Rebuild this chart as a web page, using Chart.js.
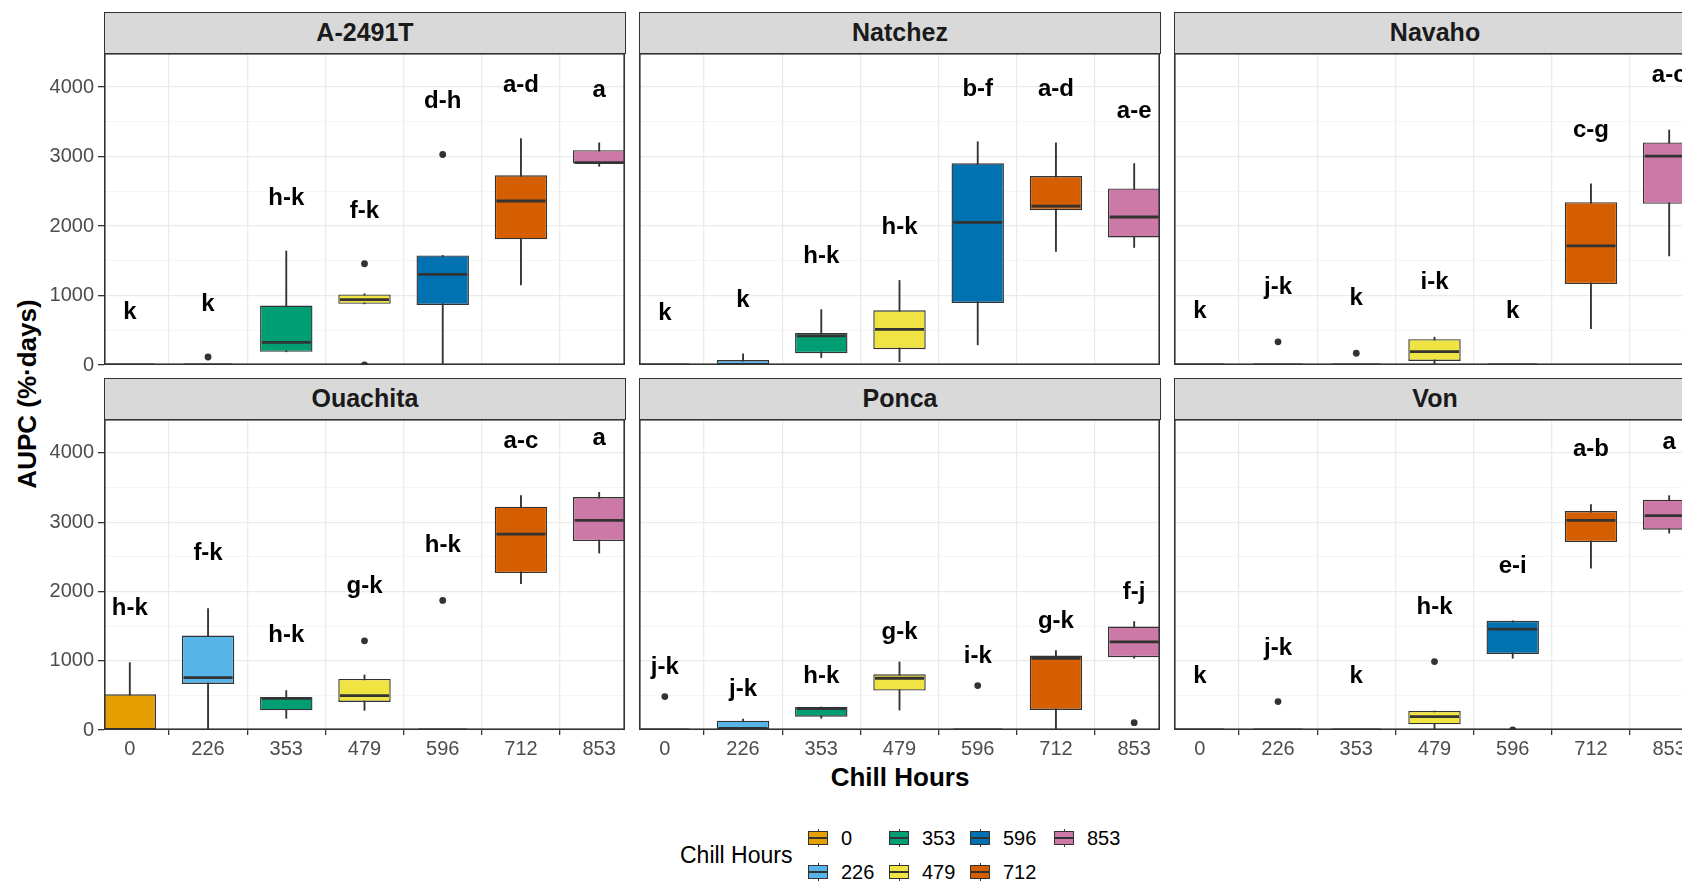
<!DOCTYPE html>
<html>
<head>
<meta charset="utf-8">
<script src="https://cdn.jsdelivr.net/npm/chart.js@4.4.1/dist/chart.umd.min.js"></script>
<style>
  body { margin: 0; width: 1682px; height: 882px; overflow: hidden; background: #fff; position: relative;
         font-family: "Liberation Sans", Arial, sans-serif; }
  canvas { position: absolute; }
  .strip { position: absolute; box-sizing: border-box; width: 522px; height: 42px; background: #d9d9d9;
           border: 1.5px solid #333; color: #1a1a1a; font-weight: bold; font-size: 25px;
           text-align: center; line-height: 39px; }
  .ytitle { position: absolute; left: 27px; top: 394px; transform: translate(-50%, -50%) rotate(-90deg);
            font-weight: bold; font-size: 26px; white-space: nowrap; color: #000; }
  .xtitle { position: absolute; left: 900px; top: 777px; transform: translate(-50%, -50%);
            font-weight: bold; font-size: 26px; white-space: nowrap; color: #000; }
  .legtitle { position: absolute; left: 680px; top: 855px; transform: translateY(-50%); font-size: 23px; color: #000; }
  .key { position: absolute; width: 20px; height: 18px; }
  .key .wh { position: absolute; left: 9.5px; top: 0; width: 1px; height: 18px; background: #333; }
  .key .bx { position: absolute; left: 0; top: 2px; width: 20px; height: 14px; box-sizing: border-box; border: 1px solid #333; }
  .key .md { position: absolute; left: 1px; top: 8px; width: 18px; height: 2px; background: #333; }
  .leglab { position: absolute; font-size: 20px; color: #000; transform: translateY(-50%); }
</style>
</head>
<body>
<div class="ytitle">AUPC (%·days)</div>
<div class="xtitle">Chill Hours</div>
<div class="legtitle">Chill Hours</div>
<script>
// panels and categories
const cultivars = ["A-2491T", "Natchez", "Navaho", "Ouachita", "Ponca", "Von"];
const chillHours = ["0", "226", "353", "479", "596", "712", "853"];
const boxColors = ["#E69F00", "#56B4E9", "#009E73", "#F0E442", "#0072B2", "#D55E00", "#CC79A7"];
const yTicks = [0, 500, 1000, 1500, 2000, 2500, 3000, 3500, 4000];

// box statistics, one row per cultivar, one value per chill hour
const q1 = [
  [0, 0, 190, 880, 865, 1808, 2900],
  [0, 0, 169, 227, 893, 2227, 1836],
  [0, 0, 0, 58, 0, 1164, 2319],
  [0, 665, 284, 405, 0, 2265, 2728],
  [0, 0, 193, 569, 0, 289, 1051],
  [0, 0, 0, 82, 1099, 2713, 2892]
];
const medians = [
  [0, 0, 327, 942, 1303, 2360, 2913],
  [0, 0, 420, 512, 2053, 2285, 2130],
  [0, 0, 0, 193, 0, 1715, 3005],
  [0, 757, 458, 496, 0, 2829, 3027],
  [0, 24, 308, 747, 0, 1036, 1272],
  [0, 0, 0, 193, 1455, 3027, 3094]
];
const q3 = [
  [0, 10, 855, 1015, 1577, 2731, 3091],
  [0, 72, 459, 787, 2903, 2720, 2541],
  [0, 0, 0, 372, 0, 2343, 3203],
  [516, 1364, 477, 737, 0, 3224, 3364],
  [0, 135, 333, 805, 0, 1075, 1494],
  [0, 0, 0, 275, 1576, 3161, 3325]
];
const whiskLow = [
  [0, 0, 190, 880, 0, 1154, 2860],
  [0, 0, 106, 48, 290, 1633, 1691],
  [0, 0, 0, 10, 0, 522, 1570],
  [0, 0, 169, 284, 0, 2111, 2554],
  [0, 0, 169, 289, 0, 0, 1036],
  [0, 0, 0, 0, 1036, 2337, 2843]
];
const whiskHigh = [
  [0, 10, 1640, 1025, 1577, 3260, 3197],
  [0, 160, 797, 1217, 3213, 3198, 2899],
  [0, 0, 0, 401, 0, 2609, 3382],
  [973, 1754, 569, 795, 0, 3383, 3431],
  [0, 159, 333, 983, 0, 1147, 1566],
  [0, 0, 0, 275, 1576, 3253, 3383]
];
// outliers as [chill hour index, value]
const outliers = [
  [[1, 115], [3, 1457], [3, 0], [4, 3029]],
  [],
  [[1, 333], [2, 169]],
  [[3, 1287], [4, 1870]],
  [[0, 482], [4, 641], [6, 106]],
  [[1, 410], [3, 988], [4, 0]]
];
// mean separation letters and their heights
const letters = [
  ["k", "k", "h-k", "f-k", "d-h", "a-d", "a"],
  ["k", "k", "h-k", "h-k", "b-f", "a-d", "a-e"],
  ["k", "j-k", "k", "i-k", "k", "c-g", "a-c"],
  ["h-k", "f-k", "h-k", "g-k", "h-k", "a-c", "a"],
  ["j-k", "j-k", "h-k", "g-k", "i-k", "g-k", "f-j"],
  ["k", "j-k", "k", "h-k", "e-i", "a-b", "a"]
];
const letterY = [
  [760, 870, 2400, 2216, 3790, 4030, 3957],
  [740, 932, 1560, 1981, 3971, 3961, 3657],
  [773, 1121, 952, 1188, 773, 3382, 4164],
  [1759, 2554, 1364, 2072, 2665, 4169, 4217],
  [901, 593, 776, 1407, 1060, 1566, 1986],
  [771, 1181, 771, 1773, 2361, 4048, 4154]
];

const FONT = '"Liberation Sans", Arial, sans-serif';
const panelX = [104, 639, 1174];
const panelW = 521;
const plotTop = [53, 419];
const plotH = [312, 311];
const stripTop = [12, 378];

// frame + letters
const panelDecor = {
  id: "panelDecor",
  afterDraw(chart) {
    const { ctx, chartArea: a, scales } = chart;
    const p = chart.options.plugins.panelDecor.panel;
    ctx.save();
    ctx.font = "bold 24px " + FONT;
    ctx.fillStyle = "#000";
    ctx.textAlign = "center";
    ctx.textBaseline = "middle";
    letters[p].forEach((t, i) => {
      ctx.fillText(t, scales.x.getPixelForValue(i), scales.y.getPixelForValue(letterY[p][i]));
    });
    ctx.strokeStyle = "#333";
    ctx.lineWidth = 1.6;
    ctx.strokeRect(a.left + 0.8, a.top + 0.8, a.right - a.left - 1.6, a.bottom - a.top - 1.6);
    ctx.restore();
  }
};

function makePanel(p) {
  const col = p % 3, row = Math.floor(p / 3);
  const showY = col === 0, showX = row === 1;
  const yW = showY ? 104 : 0;
  // top-left panel keeps a little room below so its "0" label is not cut
  const xH = showX ? 34 : (showY ? 12 : 0);

  const strip = document.createElement("div");
  strip.className = "strip";
  strip.style.left = panelX[col] + "px";
  strip.style.top = stripTop[row] + "px";
  strip.textContent = cultivars[p];
  document.body.appendChild(strip);

  const canvas = document.createElement("canvas");
  canvas.width = panelW + yW;
  canvas.height = plotH[row] + xH;
  canvas.style.left = (panelX[col] - yW) + "px";
  canvas.style.top = plotTop[row] + "px";
  document.body.appendChild(canvas);

  const idx = chillHours.map((_, i) => i);

  new Chart(canvas, {
    type: "bar",
    data: {
      datasets: [
        {
          type: "bar",
          data: idx.map(i => ({ x: i, y: [whiskLow[p][i], whiskHigh[p][i]] })),
          backgroundColor: "#333",
          barThickness: 1.2,
          grouped: false,
          clip: 0,
          order: 4
        },
        {
          type: "bar",
          data: idx.map(i => ({ x: i, y: [q1[p][i], q3[p][i]] })),
          backgroundColor: boxColors,
          borderColor: "#333",
          borderWidth: 1.4,
          borderSkipped: false,
          barPercentage: 0.67,
          categoryPercentage: 1,
          grouped: false,
          clip: 0,
          order: 3
        },
        {
          type: "scatter",
          data: idx.map(i => ({ x: i, y: medians[p][i] })),
          pointStyle: "line",
          pointRadius: 24.5,
          borderColor: "#333",
          pointBorderColor: "#333",
          borderWidth: 2.8,
          pointBorderWidth: 2.8,
          clip: 0,
          order: 2
        },
        {
          type: "scatter",
          data: outliers[p].map(o => ({ x: o[0], y: o[1] })),
          pointRadius: 3.4,
          backgroundColor: "#333",
          pointBackgroundColor: "#333",
          pointBorderWidth: 0,
          borderWidth: 0,
          order: 1
        }
      ]
    },
    options: {
      responsive: false,
      animation: false,
      events: [],
      devicePixelRatio: 1,
      layout: { padding: 0, autoPadding: false },
      plugins: {
        legend: { display: false },
        tooltip: { enabled: false },
        panelDecor: { panel: p }
      },
      scales: {
        x: {
          type: "linear",
          min: -0.33,
          max: 6.33,
          offset: false,
          afterBuildTicks: s => { s.ticks = idx.map(i => ({ value: i })); },
          afterFit: s => { s.height = xH; s.paddingLeft = 0; s.paddingRight = 0; },
          ticks: {
            display: showX,
            autoSkip: false,
            maxRotation: 0,
            padding: 2,
            color: "#4d4d4d",
            font: { size: 20, family: FONT },
            callback: v => chillHours[v]
          },
          grid: { color: "#ebebeb", lineWidth: 1.3, drawTicks: showX, tickLength: 5, tickColor: "#333" },
          border: { display: false }
        },
        y: {
          type: "linear",
          min: 0,
          max: 4490,
          afterBuildTicks: s => { s.ticks = yTicks.map(v => ({ value: v })); },
          afterFit: s => { s.width = yW; s.paddingTop = 0; s.paddingBottom = 0; },
          ticks: {
            display: showY,
            autoSkip: false,
            padding: 4,
            color: "#4d4d4d",
            font: { size: 20, family: FONT },
            callback: v => v % 1000 === 0 ? String(v) : ""
          },
          grid: {
            color: c => c.tick && c.tick.value % 1000 === 0 ? "#ebebeb" : "#f2f2f2",
            lineWidth: c => c.tick && c.tick.value % 1000 === 0 ? 1.3 : 0.8,
            drawTicks: showY,
            tickLength: 6,
            tickColor: c => c.tick && c.tick.value % 1000 === 0 ? "#333" : "rgba(0,0,0,0)"
          },
          border: { display: false }
        }
      }
    },
    plugins: [panelDecor]
  });
}

cultivars.forEach((_, p) => makePanel(p));

// legend, column-major in two rows
const legCols = [808, 889, 970, 1054];
const legRows = [838, 872];
chillHours.forEach((h, i) => {
  const c = Math.floor(i / 2), r = i % 2;
  const key = document.createElement("div");
  key.className = "key";
  key.style.left = legCols[c] + "px";
  key.style.top = (legRows[r] - 9) + "px";
  key.innerHTML = '<div class="wh"></div><div class="bx" style="background:' + boxColors[i] + '"></div><div class="md"></div>';
  document.body.appendChild(key);
  const lab = document.createElement("div");
  lab.className = "leglab";
  lab.style.left = (legCols[c] + 33) + "px";
  lab.style.top = legRows[r] + "px";
  lab.textContent = h;
  document.body.appendChild(lab);
});
</script>
</body>
</html>
